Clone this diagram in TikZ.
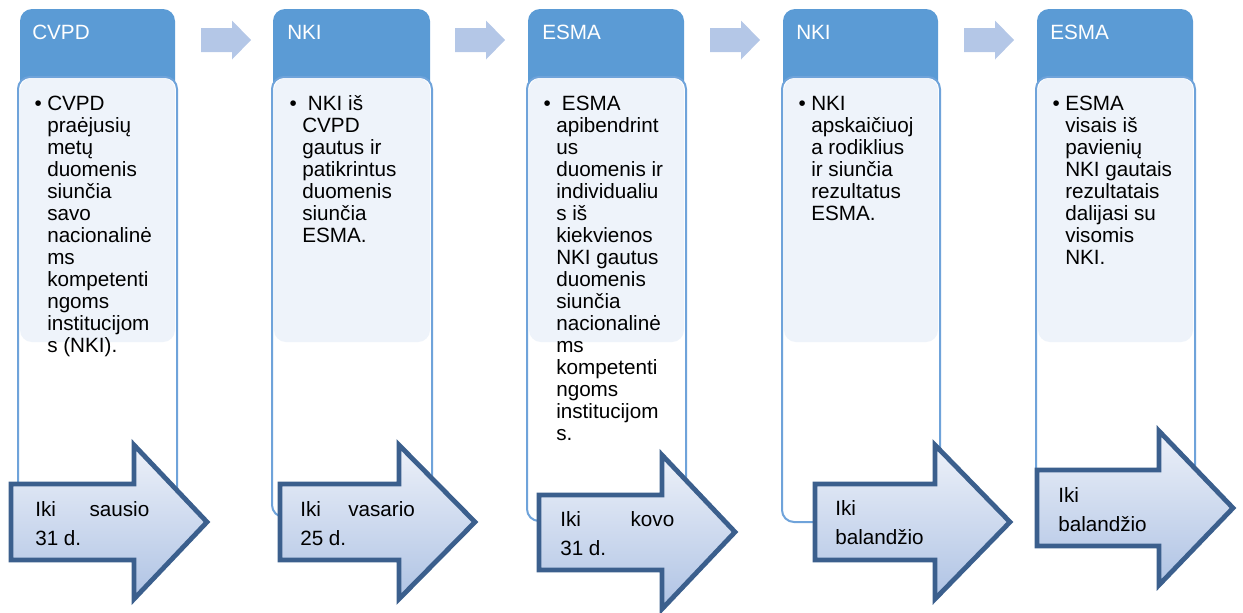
\documentclass[tikz,border=0pt]{standalone}
\usepackage{fontspec}
\setmainfont{Liberation Sans}
\definecolor{headblue}{HTML}{5B9BD5}
\definecolor{rimblue}{HTML}{6FA3DA}
\definecolor{paleblue}{HTML}{EEF3FA}
\definecolor{linkblue}{HTML}{B4C7E7}
\definecolor{dateline}{HTML}{3B5F8D}
\definecolor{datetop}{HTML}{EDF1F9}
\definecolor{datebottom}{HTML}{AFC3E4}

\begin{document}
\begin{tikzpicture}[x=0.75pt, y=-0.75pt,
  head box/.style={fill=headblue, rounded corners=9pt},
  body box/.style={draw=rimblue, line width=1.5pt, fill=white, rounded corners=9pt},
  pale box/.style={fill=paleblue, rounded corners=9pt},
  head text/.style={anchor=base west, inner sep=0pt, text=white, font=\fontsize{15.5}{16.5}\selectfont},
  body text/.style={anchor=north west, inner sep=0pt, align=left, font=\fontsize{15.5}{16.5}\selectfont},
  date arrow/.style={draw=dateline, line width=3.6pt, line join=miter, top color=datetop, bottom color=datebottom},
  date text/.style={anchor=north west, inner sep=0pt, align=left, font=\fontsize{15.5}{21.75}\selectfont},
  link arrow/.style={fill=linkblue}]
  \useasboundingbox (0,0) rectangle (1243,612);

  % column boxes
  \fill[head box] (20,9) rectangle (175,130);
  \draw[body box] (18,77) rectangle (177,518);
  \fill[pale box] (20,78) rectangle (175,342);

  \fill[head box] (273,9) rectangle (430,130);
  \draw[body box] (272,77) rectangle (432,517);
  \fill[pale box] (274,78) rectangle (430,342);

  \fill[head box] (528,9) rectangle (684,130);
  \draw[body box] (527,77) rectangle (686,521);
  \fill[pale box] (529,78) rectangle (684,342);

  \fill[head box] (783,9) rectangle (938,130);
  \draw[body box] (782,77) rectangle (940,522);
  \fill[pale box] (784,78) rectangle (938,342);

  \fill[head box] (1037,9) rectangle (1193,130);
  \draw[body box] (1036,77) rectangle (1195,500);
  \fill[pale box] (1038,78) rectangle (1193,342);

  % headers
  \node[head text] (h1) at (32,39) {CVPD};
  \node[head text] (h2) at (287,39) {NKI};
  \node[head text] (h3) at (542,39) {ESMA};
  \node[head text] (h4) at (796,39) {NKI};
  \node[head text] (h5) at (1050,39) {ESMA};

  % bodies
  \node[body text] (t1) at (47,94.6) {\strut\llap{\textbullet\hspace{4.1pt}}CVPD\\praėjusių\\metų\\duomenis\\siunčia\\savo\\nacionalinė\\ms\\kompetenti\\ngoms\\institucijom\\s (NKI).};
  \node[body text] (t2) at (302,94.6) {\strut\llap{\textbullet\hspace{4.1pt}}\hspace{4.3pt}NKI iš\\CVPD\\gautus ir\\patikrintus\\duomenis\\siunčia\\ESMA.};
  \node[body text] (t3) at (556,94.6) {\strut\llap{\textbullet\hspace{4.1pt}}\hspace{4.3pt}ESMA\\apibendrint\\us\\duomenis ir\\individualiu\\s iš\\kiekvienos\\NKI gautus\\duomenis\\siunčia\\nacionalinė\\ms\\kompetenti\\ngoms\\institucijom\\s.};
  \node[body text] (t4) at (811,94.6) {\strut\llap{\textbullet\hspace{4.1pt}}NKI\\apskaičiuoj\\a rodiklius\\ir siunčia\\rezultatus\\ESMA.};
  \node[body text] (t5) at (1065,94.6) {\strut\llap{\textbullet\hspace{4.1pt}}ESMA\\visais iš\\pavienių\\NKI gautais\\rezultatais\\dalijasi su\\visomis\\NKI.};

  % arrows between headers
  \coordinate (s1) at (201,40);
  \coordinate (s2) at (455,40);
  \coordinate (s3) at (710,40);
  \coordinate (s4) at (964,40);
  \fill[link arrow] (s1) ++(0,-12) -- ++(31,0) -- ++(0,-7.5) -- ++(19,19.5) -- ++(-19,19.5) -- ++(0,-7.5) -- ++(-31,0) -- cycle;
  \fill[link arrow] (s2) ++(0,-12) -- ++(31,0) -- ++(0,-7.5) -- ++(19,19.5) -- ++(-19,19.5) -- ++(0,-7.5) -- ++(-31,0) -- cycle;
  \fill[link arrow] (s3) ++(0,-12) -- ++(31,0) -- ++(0,-7.5) -- ++(19,19.5) -- ++(-19,19.5) -- ++(0,-7.5) -- ++(-31,0) -- cycle;
  \fill[link arrow] (s4) ++(0,-12) -- ++(31,0) -- ++(0,-7.5) -- ++(19,19.5) -- ++(-19,19.5) -- ++(0,-7.5) -- ++(-31,0) -- cycle;

  % deadline arrows
  \draw[date arrow] (11,484) -- (134,484) -- (134,445) -- (207,522) -- (134,599) -- (134,560) -- (11,560) -- cycle;
  \draw[date arrow] (280,484) -- (399,484) -- (399,445) -- (475,522) -- (399,599) -- (399,560) -- (280,560) -- cycle;
  \draw[date arrow] (539,495) -- (662,495) -- (662,455) -- (735,532) -- (662,609) -- (662,570) -- (539,570) -- cycle;
  \draw[date arrow] (815,484) -- (935,484) -- (935,445) -- (1010,522) -- (935,599) -- (935,560) -- (815,560) -- cycle;
  \draw[date arrow] (1037,470) -- (1159,470) -- (1159,431) -- (1233,508) -- (1159,585) -- (1159,546) -- (1037,546) -- cycle;

  \node[date text] (d1) at (35,495.7) {\strut\hbox to 85.5pt{Iki\hfill sausio}\\31 d.};
  \node[date text] (d2) at (300,495.7) {\strut\hbox to 86pt{Iki\hfill vasario}\\25 d.};
  \node[date text] (d3) at (560,505.7) {\strut\hbox to 85.5pt{Iki\hfill kovo}\\31 d.};
  \node[date text] (d4) at (835,494.7) {\strut Iki\\balandžio};
  \node[date text] (d5) at (1058,481.7) {\strut Iki\\balandžio};
\end{tikzpicture}
\end{document}
